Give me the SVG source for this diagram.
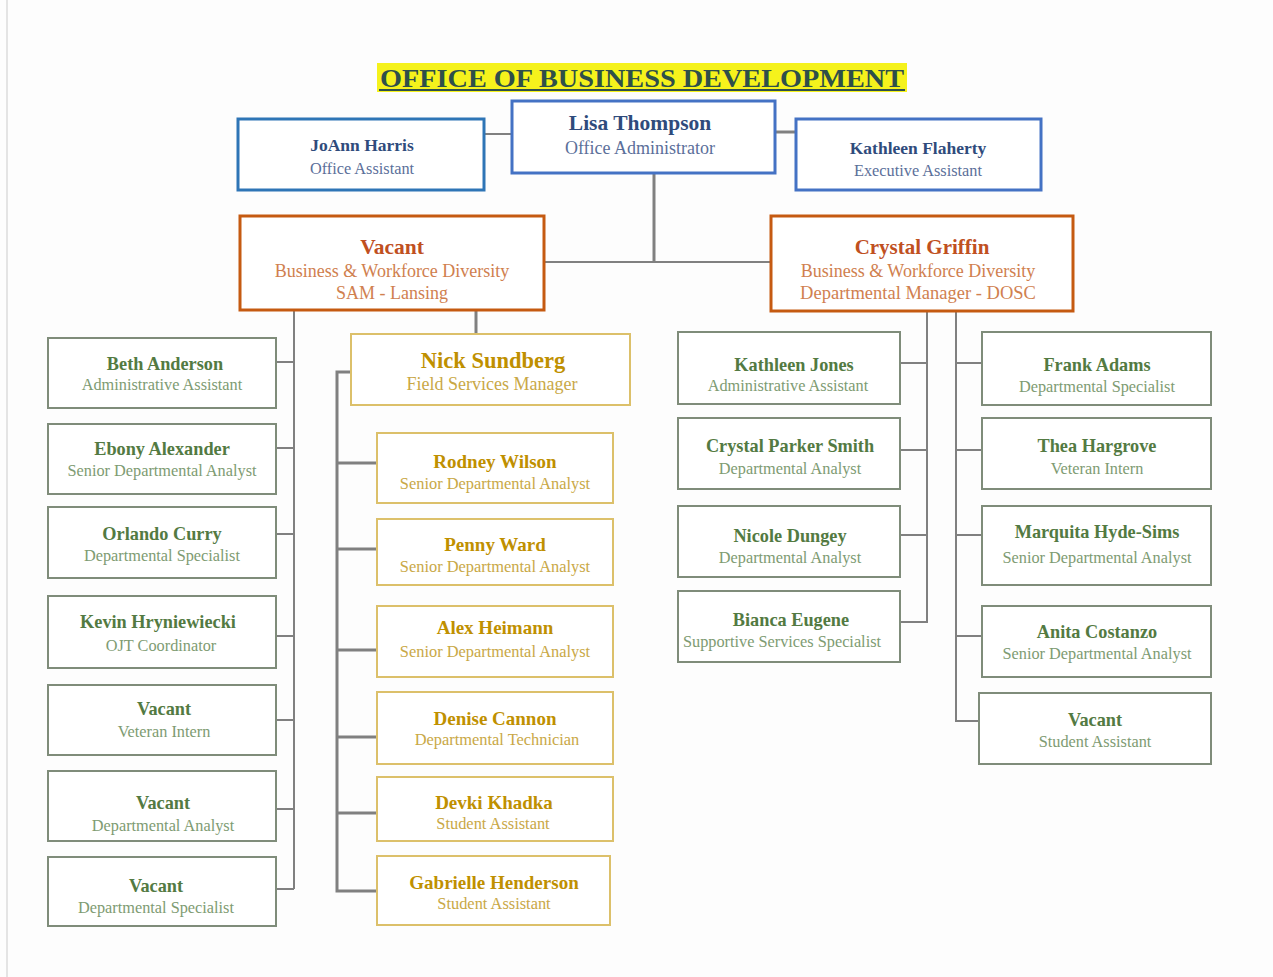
<svg xmlns="http://www.w3.org/2000/svg" width="1273" height="977" viewBox="0 0 1273 977">
<style>
text{font-family:"Liberation Serif","DejaVu Serif",serif;text-anchor:middle;dominant-baseline:central}
.box{fill:#ffffff}
.blue{stroke:#4472c4;stroke-width:3}
.blue2{stroke:#2e75b6;stroke-width:3}
.orange{stroke:#c55a11;stroke-width:3}
.green{stroke:#7f8c7a;stroke-width:2}
.gold{stroke:#dcc06a;stroke-width:2}
.bn{font-weight:bold;font-size:17.5px;fill:#2f4b7c}
.bt{font-size:16.3px;fill:#5b6f9a}
.on{font-weight:bold;font-size:21px;fill:#c0501f}
.ot{font-size:18px;fill:#d0804f}
.gn{font-weight:bold;font-size:18.3px;fill:#537a42}
.gt{font-size:16.3px;fill:#7e9b72}
.yn{font-weight:bold;font-size:19px;fill:#bf9000}
.yt{font-size:16.4px;fill:#c9a846}
.ln{stroke:#808080;fill:none}
</style>
<rect x="0" y="0" width="1273" height="977" fill="#fdfdfd"/>
<line x1="7" y1="0" x2="7" y2="977" stroke="#e4e4e4" stroke-width="2"/>
<g id="title">
<rect x="377" y="63" width="530" height="29" fill="#f5f21c"/>
<text x="642" y="78" font-size="26" font-weight="bold" fill="#2e4f4a" textLength="524" lengthAdjust="spacingAndGlyphs">OFFICE OF BUSINESS DEVELOPMENT</text>
<line x1="379" y1="90" x2="905" y2="90" stroke="#2e4f4a" stroke-width="2"/>
</g>
<g id="connectors" class="ln">
<line x1="484" y1="134" x2="512" y2="134" stroke-width="2"/>
<line x1="775" y1="132" x2="796" y2="132" stroke-width="3"/>
<line x1="654" y1="173" x2="654" y2="262" stroke-width="3"/>
<line x1="544" y1="262" x2="771" y2="262" stroke-width="2"/>
<path d="M294 310 V889 M276 362 H294 M276 448 H294 M276 534 H294 M276 636 H294 M276 720 H294 M276 809 H294 M276 889 H294" stroke-width="2"/>
<line x1="476" y1="310" x2="476" y2="334" stroke-width="3"/>
<path d="M351 372 H337 V891 H377 M337 463 H377 M337 549 H377 M337 650 H377 M337 737 H377 M337 813 H377" stroke-width="3"/>
<path d="M927 311 V622 H900 M900 363 H927 M900 450 H927 M900 535 H927" stroke-width="2"/>
<path d="M956 311 V721 H979 M956 363 H982 M956 450 H982 M956 535 H982 M956 636 H982" stroke-width="2"/>
</g>
<g id="lisa"><rect class="box blue" x="512" y="101" width="263" height="72"/><text class="bn" x="640" y="123" style="font-size:21.5px">Lisa Thompson</text><text class="bt" x="640" y="148" style="font-size:18px">Office Administrator</text></g>
<g id="joann"><rect class="box blue2" x="238" y="119" width="246" height="71"/><text class="bn" x="362" y="145">JoAnn Harris</text><text class="bt" x="362" y="168">Office Assistant</text></g>
<g id="kflaherty"><rect class="box blue" x="796" y="119" width="245" height="71"/><text class="bn" x="918" y="148">Kathleen Flaherty</text><text class="bt" x="918" y="170">Executive Assistant</text></g>
<g id="vacant-sam"><rect class="box orange" x="240" y="216" width="304" height="94"/><text class="on" x="392" y="247" style="font-size:21.5px">Vacant</text><text class="ot" x="392" y="271">Business &amp; Workforce Diversity</text><text class="ot" x="392" y="293">SAM - Lansing</text></g>
<g id="crystal-griffin"><rect class="box orange" x="771" y="216" width="302" height="95"/><text class="on" x="922" y="247">Crystal Griffin</text><text class="ot" x="918" y="271">Business &amp; Workforce Diversity</text><text class="ot" x="918" y="293" style="font-size:18.5px">Departmental Manager - DOSC</text></g>
<g id="beth"><rect class="box green" x="48" y="338" width="228" height="70"/><text class="gn" x="165" y="364">Beth Anderson</text><text class="gt" x="162" y="384">Administrative Assistant</text></g>
<g id="ebony"><rect class="box green" x="48" y="424" width="228" height="70"/><text class="gn" x="162" y="449">Ebony Alexander</text><text class="gt" x="162" y="470">Senior Departmental Analyst</text></g>
<g id="orlando"><rect class="box green" x="48" y="507" width="228" height="71"/><text class="gn" x="162" y="534">Orlando Curry</text><text class="gt" x="162" y="555">Departmental Specialist</text></g>
<g id="kevin"><rect class="box green" x="48" y="596" width="228" height="72"/><text class="gn" x="158" y="622">Kevin Hryniewiecki</text><text class="gt" x="161" y="645">OJT Coordinator</text></g>
<g id="vacant-vi"><rect class="box green" x="48" y="685" width="228" height="70"/><text class="gn" x="164" y="709">Vacant</text><text class="gt" x="164" y="731">Veteran Intern</text></g>
<g id="vacant-da"><rect class="box green" x="48" y="771" width="228" height="70"/><text class="gn" x="163" y="803">Vacant</text><text class="gt" x="163" y="825">Departmental Analyst</text></g>
<g id="vacant-ds"><rect class="box green" x="48" y="857" width="228" height="69"/><text class="gn" x="156" y="886">Vacant</text><text class="gt" x="156" y="907">Departmental Specialist</text></g>
<g id="nick"><rect class="box gold" x="351" y="334" width="279" height="71"/><text class="yn" x="493" y="360" style="font-size:22.5px">Nick Sundberg</text><text class="yt" x="492" y="384" style="font-size:18px">Field Services Manager</text></g>
<g id="rodney"><rect class="box gold" x="377" y="433" width="236" height="70"/><text class="yn" x="495" y="461">Rodney Wilson</text><text class="yt" x="495" y="483">Senior Departmental Analyst</text></g>
<g id="penny"><rect class="box gold" x="377" y="519" width="236" height="66"/><text class="yn" x="495" y="544">Penny Ward</text><text class="yt" x="495" y="566">Senior Departmental Analyst</text></g>
<g id="alex"><rect class="box gold" x="377" y="606" width="236" height="71"/><text class="yn" x="495" y="627">Alex Heimann</text><text class="yt" x="495" y="651">Senior Departmental Analyst</text></g>
<g id="denise"><rect class="box gold" x="377" y="692" width="236" height="72"/><text class="yn" x="495" y="718">Denise Cannon</text><text class="yt" x="497" y="739">Departmental Technician</text></g>
<g id="devki"><rect class="box gold" x="377" y="777" width="236" height="64"/><text class="yn" x="494" y="802">Devki Khadka</text><text class="yt" x="493" y="823">Student Assistant</text></g>
<g id="gabrielle"><rect class="box gold" x="377" y="856" width="233" height="69"/><text class="yn" x="494" y="882">Gabrielle Henderson</text><text class="yt" x="494" y="903">Student Assistant</text></g>
<g id="kjones"><rect class="box green" x="678" y="332" width="222" height="72"/><text class="gn" x="794" y="365">Kathleen Jones</text><text class="gt" x="788" y="385">Administrative Assistant</text></g>
<g id="cparker"><rect class="box green" x="678" y="418" width="222" height="71"/><text class="gn" x="790" y="446">Crystal Parker Smith</text><text class="gt" x="790" y="468">Departmental Analyst</text></g>
<g id="nicole"><rect class="box green" x="678" y="506" width="222" height="71"/><text class="gn" x="790" y="536">Nicole Dungey</text><text class="gt" x="790" y="557">Departmental Analyst</text></g>
<g id="bianca"><rect class="box green" x="678" y="591" width="222" height="71"/><text class="gn" x="791" y="620">Bianca Eugene</text><text class="gt" x="782" y="641">Supportive Services Specialist</text></g>
<g id="frank"><rect class="box green" x="982" y="332" width="229" height="73"/><text class="gn" x="1097" y="365">Frank Adams</text><text class="gt" x="1097" y="386">Departmental Specialist</text></g>
<g id="thea"><rect class="box green" x="982" y="418" width="229" height="71"/><text class="gn" x="1097" y="446">Thea Hargrove</text><text class="gt" x="1097" y="468">Veteran Intern</text></g>
<g id="marquita"><rect class="box green" x="982" y="506" width="229" height="79"/><text class="gn" x="1097" y="532">Marquita Hyde-Sims</text><text class="gt" x="1097" y="557">Senior Departmental Analyst</text></g>
<g id="anita"><rect class="box green" x="982" y="606" width="229" height="71"/><text class="gn" x="1097" y="632">Anita Costanzo</text><text class="gt" x="1097" y="653">Senior Departmental Analyst</text></g>
<g id="vacant-sa"><rect class="box green" x="979" y="693" width="232" height="71"/><text class="gn" x="1095" y="720">Vacant</text><text class="gt" x="1095" y="741">Student Assistant</text></g>
</svg>
